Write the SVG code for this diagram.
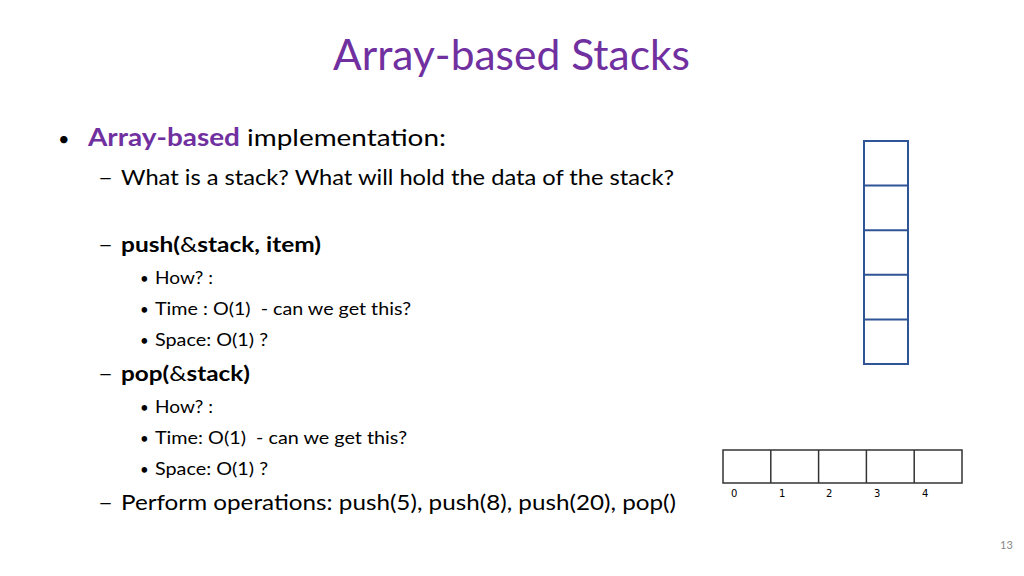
<svg xmlns="http://www.w3.org/2000/svg" width="1024" height="576" viewBox="0 0 1024 576">
<style>
text{font-family:Lato,"Open Sans","Liberation Sans",sans-serif;fill:#000}
.l1{font-size:24px}.l2{font-size:21px}.l3{font-size:18px}
.b{font-weight:bold}
.sc{fill:none;stroke:#2F5597;stroke-width:2}
.ac{fill:none;stroke:#333;stroke-width:1.5}
.idx{font-size:10px;font-family:"DejaVu Sans",sans-serif}
</style>
<rect width="1024" height="576" fill="#fff"/>
<text x="333" y="70" textLength="357" lengthAdjust="spacingAndGlyphs" style="font-size:42px;fill:#7030A0">Array-based Stacks</text>
<g id="text">
<text x="58" y="146" style="font-size:20px">•</text>
<text x="88" y="146" class="l1" textLength="358" lengthAdjust="spacingAndGlyphs"><tspan class="b" style="fill:#7030A0">Array-based</tspan> implementation:</text>
<text x="98" y="185" class="l2" textLength="15" lengthAdjust="spacingAndGlyphs">–</text><text x="121" y="185" class="l2" textLength="553" lengthAdjust="spacingAndGlyphs">What is a stack? What will hold the data of the stack?</text>
<text x="98" y="252" class="l2" textLength="15" lengthAdjust="spacingAndGlyphs">–</text><text x="121" y="252" class="l2 b" textLength="200" lengthAdjust="spacingAndGlyphs">push(<tspan style="font-weight:normal">&amp;</tspan>stack, item)</text>
<text x="140" y="284" style="font-size:15px">•</text><text x="155" y="284" class="l3" textLength="58" lengthAdjust="spacingAndGlyphs">How? :</text>
<text x="140" y="315" style="font-size:15px">•</text><text x="155" y="315" class="l3" textLength="256" lengthAdjust="spacingAndGlyphs" xml:space="preserve">Time : O(1)  - can we get this?</text>
<text x="140" y="346" style="font-size:15px">•</text><text x="155" y="346" class="l3" textLength="113" lengthAdjust="spacingAndGlyphs">Space: O(1) ?</text>
<text x="98" y="381" class="l2" textLength="15" lengthAdjust="spacingAndGlyphs">–</text><text x="121" y="381" class="l2 b" textLength="129" lengthAdjust="spacingAndGlyphs">pop(<tspan style="font-weight:normal">&amp;</tspan>stack)</text>
<text x="140" y="413" style="font-size:15px">•</text><text x="155" y="413" class="l3" textLength="58" lengthAdjust="spacingAndGlyphs">How? :</text>
<text x="140" y="444" style="font-size:15px">•</text><text x="155" y="444" class="l3" textLength="252" lengthAdjust="spacingAndGlyphs" xml:space="preserve">Time: O(1)  - can we get this?</text>
<text x="140" y="475" style="font-size:15px">•</text><text x="155" y="475" class="l3" textLength="113" lengthAdjust="spacingAndGlyphs">Space: O(1) ?</text>
<text x="98" y="510" class="l2" textLength="15" lengthAdjust="spacingAndGlyphs">–</text><text x="121" y="510" class="l2" textLength="555" lengthAdjust="spacingAndGlyphs">Perform operations: push(5), push(8), push(20), pop()</text>
</g>
<g id="stack">
<rect class="sc" x="864" y="141" width="44" height="223"/>
<path class="sc" d="M864 185.6H908M864 230.2H908M864 274.8H908M864 319.4H908"/>
</g>
<g id="array">
<rect class="ac" x="723" y="450" width="239" height="33"/>
<path class="ac" d="M770.8 450V483M818.6 450V483M866.4 450V483M914.2 450V483"/>
<text class="idx" x="731" y="497">0</text><text class="idx" x="779" y="497">1</text><text class="idx" x="826" y="497">2</text><text class="idx" x="874" y="497">3</text><text class="idx" x="922" y="497">4</text>
</g>
<g id="connectors"/>
<text x="1000" y="549" style="font-size:11px;fill:#888">13</text>
</svg>
